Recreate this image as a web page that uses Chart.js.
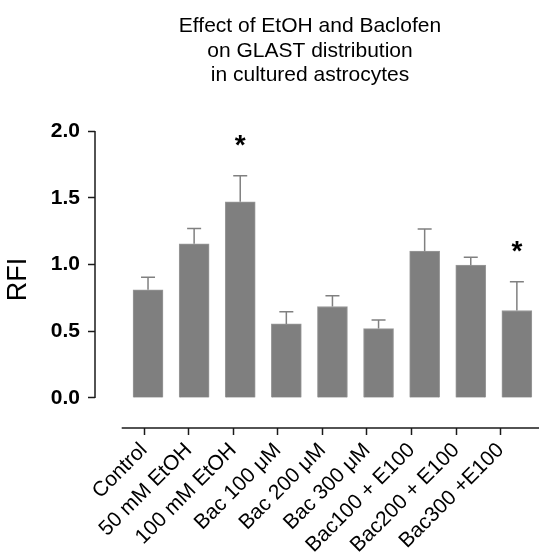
<!DOCTYPE html>
<html>
<head>
<meta charset="utf-8">
<script src="https://cdn.jsdelivr.net/npm/chart.js@4/dist/chart.umd.min.js"></script>
<style>
  body { margin: 0; background: #fff; }
  canvas { display: block; }
</style>
</head>
<body>
<canvas id="myChart" width="539" height="554"></canvas>
<script>
// data
const categories = ['Control', '50 mM EtOH', '100 mM EtOH', 'Bac 100 μM', 'Bac 200 μM', 'Bac 300 μM', 'Bac100 + E100', 'Bac200 + E100', 'Bac300 +E100']
const means = [0.81, 1.155, 1.47, 0.555, 0.685, 0.52, 1.10, 0.995, 0.655]
const sems = [0.095, 0.115, 0.195, 0.09, 0.08, 0.065, 0.165, 0.06, 0.215]
const stars = ['', '', '*', '', '', '', '', '', '*']
const yTicks = [0, 0.5, 1.0, 1.5, 2.0]
const titleLines = ['Effect of EtOH and Baclofen', 'on GLAST distribution', 'in cultured astrocytes']

const FONT = 'Liberation Sans, Arial, sans-serif'

// title + axis lines + error bars, drawn with the chart scales
const extras = {
    id: 'extras',
    afterDatasetsDraw(chart) {
        const {ctx, scales} = chart
        const xs = scales.x, ys = scales.y, xl = scales.xl
        ctx.save()

        // error bars (upper only)
        ctx.strokeStyle = '#808080'
        ctx.lineWidth = 1.5
        means.forEach((m, i) => {
            const x = xs.getPixelForValue(i)
            const yb = ys.getPixelForValue(m)
            const yt = ys.getPixelForValue(m + sems[i])
            ctx.beginPath()
            ctx.moveTo(x, yb)
            ctx.lineTo(x, yt)
            ctx.moveTo(x - 7, yt)
            ctx.lineTo(x + 7, yt)
            ctx.stroke()

            if (stars[i]) {
                ctx.fillStyle = '#000'
                ctx.font = 'bold 28px ' + FONT
                ctx.textAlign = 'center'
                ctx.textBaseline = 'alphabetic'
                ctx.fillText(stars[i], x, yt - 38 + 16)
            }
        })

        // y axis line from 0 to 2
        ctx.strokeStyle = '#1a1a1a'
        ctx.lineWidth = 1.5
        ctx.beginPath()
        ctx.moveTo(chart.chartArea.left, ys.getPixelForValue(yTicks[0]))
        ctx.lineTo(chart.chartArea.left, ys.getPixelForValue(yTicks[yTicks.length - 1]))
        ctx.stroke()

        // x axis line
        const yAxis = chart.chartArea.bottom
        ctx.beginPath()
        ctx.moveTo(xl.getPixelForValue(-0.5), yAxis)
        ctx.lineTo(chart.width, yAxis)
        ctx.stroke()

        // title
        ctx.fillStyle = '#000'
        ctx.font = '21px ' + FONT
        ctx.textAlign = 'center'
        ctx.textBaseline = 'alphabetic'
        titleLines.forEach((t, i) => ctx.fillText(t, 310, 32 + i * 24.5))

        ctx.restore()
    }
}

const ctx = document.getElementById('myChart').getContext('2d')

const chart = new Chart(ctx, {
    type: 'bar',
    data: {
        datasets: [{
            data: means.map((v, i) => ({x: i, y: v})),
            backgroundColor: '#7f7f7f',
            borderColor: '#9a9a9a',
            borderWidth: 1,
            barThickness: 30
        }]
    },
    options: {
        responsive: false,
        animation: false,
        layout: {padding: {top: 131, left: 0, right: 0, bottom: 0}},
        plugins: {
            legend: {display: false},
            tooltip: {enabled: false}
        },
        scales: {
            x: {
                type: 'linear',
                min: -1.15,
                max: 8.48,
                offset: false,
                grid: {offset: false},
                display: false
            },
            xl: {
                type: 'linear',
                position: 'bottom',
                min: -1.099,
                max: 8.857,
                offset: false,
                afterBuildTicks: (scale) => {
                    scale.ticks = categories.map((c, i) => ({value: i}))
                },
                afterFit: (scale) => {
                    scale.height = 126
                    scale.paddingLeft = 0
                    scale.paddingRight = 0
                },
                border: {display: false},
                grid: {
                    offset: false,
                    drawOnChartArea: false,
                    drawTicks: true,
                    tickLength: 7,
                    tickWidth: 1.5,
                    tickColor: '#1a1a1a'
                },
                ticks: {
                    autoSkip: false,
                    maxRotation: 45,
                    minRotation: 45,
                    padding: 3,
                    color: '#000',
                    font: {family: FONT, size: 21},
                    callback: (v) => categories[v]
                }
            },
            y: {
                min: -0.225,
                max: 2.0,
                afterBuildTicks: (scale) => {
                    scale.ticks = yTicks.map(v => ({value: v}))
                },
                afterFit: (scale) => { scale.width = 95 },
                border: {display: false},
                grid: {
                    drawOnChartArea: false,
                    drawTicks: true,
                    tickLength: 7,
                    tickWidth: 1.5,
                    tickColor: '#1a1a1a'
                },
                ticks: {
                    padding: 8,
                    color: '#000',
                    font: {family: FONT, size: 21, weight: 'bold'},
                    callback: (v) => v.toFixed(1)
                },
                title: {
                    display: true,
                    text: 'RFI',
                    color: '#000',
                    font: {family: FONT, size: 27},
                    padding: {top: 2, bottom: 4}
                }
            }
        }
    },
    plugins: [extras]
})
</script>
</body>
</html>
